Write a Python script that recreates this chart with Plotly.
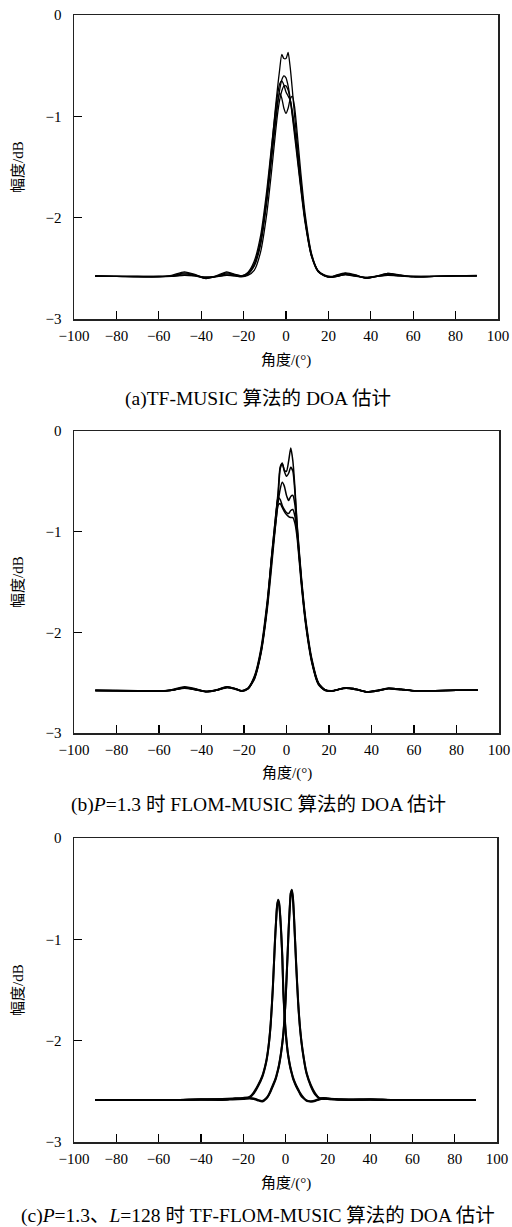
import plotly.graph_objects as go

# ---------------- data ----------------
X_AB = [-90, -80, -70, -60, -54, -48, -43, -38, -33, -28, -24, -21, -18, -15, -12, -9, -7, -5, -4, -3,
        -2, -1, 0, 1, 2, 3, 4, 5, 7, 9, 12, 15, 18, 21, 24, 28, 33, 38, 43, 48, 54, 60, 70, 80, 90]

# (a) TF-MUSIC
A1 = [-2.575, -2.58, -2.585, -2.585, -2.57, -2.535, -2.56, -2.60, -2.575, -2.535, -2.56, -2.574, -2.549,
      -2.461, -2.23, -1.77, -1.36, -0.92, -0.72, -0.54, -0.39, -0.43, -0.43, -0.37, -0.52, -0.74, -0.98,
      -1.20, -1.64, -2.02, -2.38, -2.52, -2.57, -2.59, -2.565, -2.545, -2.565, -2.60, -2.575, -2.55,
      -2.565, -2.585, -2.58, -2.575, -2.575]
A2 = [-2.58, -2.58, -2.58, -2.58, -2.575, -2.555, -2.57, -2.59, -2.58, -2.555, -2.57, -2.58, -2.56,
      -2.48, -2.27, -1.84, -1.46, -1.07, -0.89, -0.74, -0.64, -0.60, -0.62, -0.70, -0.83, -1.00, -1.18,
      -1.36, -1.72, -2.05, -2.38, -2.53, -2.575, -2.59, -2.58, -2.56, -2.575, -2.595, -2.58, -2.565,
      -2.575, -2.58, -2.58, -2.575, -2.575]
A3 = [-2.575, -2.58, -2.58, -2.585, -2.58, -2.565, -2.575, -2.595, -2.585, -2.565, -2.575, -2.58, -2.555,
      -2.46, -2.24, -1.80, -1.42, -1.03, -0.86, -0.77, -0.82, -0.92, -0.97, -0.92, -0.83, -0.80, -0.90,
      -1.10, -1.56, -1.96, -2.35, -2.52, -2.57, -2.585, -2.575, -2.56, -2.575, -2.59, -2.575, -2.56,
      -2.575, -2.585, -2.58, -2.575, -2.57]
A4 = [-2.575, -2.58, -2.58, -2.58, -2.575, -2.545, -2.565, -2.60, -2.58, -2.545, -2.565, -2.575, -2.54,
      -2.43, -2.18, -1.72, -1.33, -0.95, -0.79, -0.68, -0.65, -0.69, -0.76, -0.80, -0.84, -0.95, -1.10,
      -1.28, -1.66, -2.00, -2.36, -2.52, -2.565, -2.58, -2.57, -2.55, -2.57, -2.595, -2.58, -2.55,
      -2.57, -2.58, -2.58, -2.575, -2.575]
A5 = [-2.58, -2.58, -2.585, -2.58, -2.58, -2.57, -2.575, -2.585, -2.58, -2.57, -2.575, -2.585, -2.57,
      -2.52, -2.34, -1.95, -1.58, -1.17, -0.98, -0.84, -0.75, -0.70, -0.70, -0.74, -0.84, -0.98, -1.14,
      -1.32, -1.70, -2.03, -2.37, -2.53, -2.57, -2.59, -2.58, -2.565, -2.58, -2.59, -2.58, -2.57,
      -2.575, -2.58, -2.58, -2.575, -2.575]

# (b) FLOM-MUSIC, P=1.3
B1 = [-2.575, -2.58, -2.585, -2.585, -2.575, -2.545, -2.565, -2.59, -2.575, -2.54, -2.56, -2.585, -2.56,
      -2.45, -2.20, -1.72, -1.25, -0.82, -0.62, -0.36, -0.32, -0.39, -0.40, -0.30, -0.17, -0.30, -0.58,
      -0.93, -1.45, -1.86, -2.27, -2.50, -2.57, -2.585, -2.57, -2.55, -2.565, -2.595, -2.58, -2.555,
      -2.565, -2.58, -2.58, -2.575, -2.575]
B2 = [-2.575, -2.58, -2.58, -2.585, -2.575, -2.55, -2.57, -2.59, -2.575, -2.545, -2.565, -2.585, -2.555,
      -2.44, -2.18, -1.70, -1.24, -0.83, -0.66, -0.38, -0.32, -0.40, -0.45, -0.42, -0.36, -0.40, -0.62,
      -0.95, -1.47, -1.88, -2.29, -2.51, -2.57, -2.585, -2.57, -2.555, -2.57, -2.59, -2.575, -2.56,
      -2.57, -2.58, -2.58, -2.575, -2.575]
B3 = [-2.575, -2.575, -2.58, -2.585, -2.57, -2.54, -2.56, -2.59, -2.57, -2.54, -2.56, -2.58, -2.55,
      -2.43, -2.16, -1.68, -1.26, -0.90, -0.72, -0.58, -0.51, -0.55, -0.64, -0.69, -0.65, -0.64, -0.74,
      -0.99, -1.49, -1.90, -2.30, -2.51, -2.575, -2.585, -2.57, -2.55, -2.565, -2.59, -2.575, -2.555,
      -2.565, -2.58, -2.58, -2.575, -2.57]
B4 = [-2.58, -2.58, -2.585, -2.585, -2.575, -2.55, -2.565, -2.585, -2.575, -2.545, -2.56, -2.58, -2.555,
      -2.45, -2.19, -1.73, -1.30, -0.86, -0.66, -0.68, -0.74, -0.78, -0.81, -0.82, -0.79, -0.78, -0.85,
      -1.02, -1.50, -1.90, -2.29, -2.51, -2.57, -2.58, -2.57, -2.55, -2.565, -2.595, -2.58, -2.555,
      -2.565, -2.58, -2.58, -2.575, -2.575]
B5 = [-2.58, -2.58, -2.58, -2.58, -2.575, -2.555, -2.57, -2.585, -2.575, -2.55, -2.565, -2.585, -2.56,
      -2.46, -2.21, -1.76, -1.34, -0.90, -0.74, -0.72, -0.76, -0.80, -0.83, -0.85, -0.86, -0.86, -0.92,
      -1.06, -1.53, -1.92, -2.31, -2.52, -2.575, -2.585, -2.57, -2.555, -2.57, -2.59, -2.58, -2.56,
      -2.57, -2.58, -2.58, -2.575, -2.575]

# (c) TF-FLOM-MUSIC, P=1.3, L=128
X_C = [-90, -80, -70, -60, -50, -40, -30, -25, -20, -17, -15, -13, -11, -9, -8, -7, -6, -5, -4.5, -4,
       -3.5, -3, -2.5, -2, -1.5, -1, -0.5, 0, 1, 1.5, 2, 2.5, 3, 3.5, 4, 5, 6, 7, 8, 10, 12, 14, 16, 18,
       20, 25, 30, 40, 50, 60, 70, 80, 90]
C1 = [-2.585, -2.585, -2.585, -2.585, -2.585, -2.58, -2.58, -2.575, -2.57, -2.56, -2.52, -2.45, -2.36,
      -2.20, -2.06, -1.84, -1.49, -1.03, -0.84, -0.68, -0.61, -0.64, -0.76, -0.94, -1.17, -1.52, -1.72,
      -1.88, -2.10, -2.17, -2.23, -2.28, -2.32, -2.36, -2.39, -2.44, -2.48, -2.52, -2.55, -2.595, -2.60,
      -2.595, -2.58, -2.57, -2.575, -2.58, -2.585, -2.58, -2.585, -2.585, -2.585, -2.585, -2.585]
C2 = [-2.585, -2.585, -2.585, -2.585, -2.585, -2.58, -2.575, -2.57, -2.565, -2.555, -2.51, -2.44, -2.35,
      -2.19, -2.05, -1.83, -1.48, -1.02, -0.83, -0.67, -0.62, -0.66, -0.78, -0.96, -1.19, -1.54, -1.74,
      -1.90, -2.11, -2.18, -2.24, -2.29, -2.33, -2.37, -2.40, -2.45, -2.49, -2.53, -2.56, -2.59, -2.60,
      -2.59, -2.575, -2.565, -2.57, -2.58, -2.58, -2.58, -2.585, -2.585, -2.585, -2.585, -2.585]
C3 = [-2.585, -2.585, -2.585, -2.585, -2.585, -2.58, -2.585, -2.58, -2.575, -2.57, -2.575, -2.59, -2.60,
      -2.57, -2.54, -2.50, -2.45, -2.40, -2.37, -2.33, -2.29, -2.24, -2.18, -2.11, -2.03, -1.93, -1.80,
      -1.62, -1.15, -0.90, -0.70, -0.55, -0.51, -0.58, -0.76, -1.22, -1.62, -1.90, -2.08, -2.32, -2.44,
      -2.52, -2.57, -2.575, -2.57, -2.58, -2.585, -2.58, -2.585, -2.585, -2.585, -2.585, -2.585]
C4 = [-2.585, -2.585, -2.585, -2.585, -2.585, -2.58, -2.58, -2.575, -2.57, -2.565, -2.57, -2.585, -2.595,
      -2.565, -2.535, -2.49, -2.44, -2.39, -2.36, -2.32, -2.28, -2.23, -2.17, -2.10, -2.02, -1.92, -1.79,
      -1.61, -1.14, -0.89, -0.69, -0.54, -0.52, -0.60, -0.78, -1.24, -1.64, -1.91, -2.09, -2.33, -2.45,
      -2.53, -2.565, -2.57, -2.575, -2.58, -2.58, -2.58, -2.585, -2.585, -2.585, -2.585, -2.585]

X_TICKS = [-100, -80, -60, -40, -20, 0, 20, 40, 60, 80, 100]
X_TICK_LABELS = ["−100", "−80", "−60", "−40", "−20", "0", "20", "40", "60", "80", "100"]
Y_TICKS = [0, -1, -2, -3]
Y_TICK_LABELS = ["0", "−1", "−2", "−3"]

X_TITLE = "角度/(°)"
Y_TITLE = "幅度/dB"
CAPTIONS = ["(a)TF-MUSIC 算法的 DOA 估计",
            "(b)<i>P</i>=1.3 时 FLOM-MUSIC 算法的 DOA 估计",
            "(c)<i>P</i>=1.3、<i>L</i>=128 时 TF-FLOM-MUSIC 算法的 DOA 估计"]

# ---------------- layout helpers ----------------
W, H = 512, 1227
FONT = "Liberation Serif, Times New Roman, Noto Sans CJK SC, serif"

def px_x(p):
    return p / W

def px_y(p):
    return 1 - p / H

# panel boxes in pixels: (left, right, top, bottom)
BOXES = [(74, 498, 15, 319), (74, 499, 431, 733), (74, 497, 838, 1142)]
XTITLE_Y = [361, 773, 1183]
CAPTION_Y = [399, 805, 1216]
LINE_W = [1.3, 1.5, 2.0]

panels = [(X_AB, [A1, A2, A3, A4, A5]),
          (X_AB, [B1, B2, B3, B4, B5]),
          (X_C, [C1, C2, C3, C4])]

fig = go.Figure()
layout = dict(width=W, height=H, margin=dict(l=0, r=0, t=0, b=0, autoexpand=False),
              paper_bgcolor="white", plot_bgcolor="white", showlegend=False,
              font=dict(family=FONT, color="black"))
annotations = []

for i, (xs, curves) in enumerate(panels):
    n = "" if i == 0 else str(i + 1)
    for ys in curves:
        fig.add_trace(go.Scatter(x=xs, y=ys, mode="lines", xaxis="x" + n, yaxis="y" + n,
                                 line=dict(color="black", width=LINE_W[i], shape="spline",
                                           smoothing=0.6),
                                 hoverinfo="skip"))
    l, r, t, b = BOXES[i]
    layout["xaxis" + n] = dict(domain=[px_x(l), px_x(r)], anchor="y" + n, range=[-100, 100],
                               tickvals=X_TICKS, ticktext=X_TICK_LABELS, ticks="inside",
                               ticklen=8, tickwidth=1.2, tickcolor="black", showline=True,
                               mirror=True, linecolor="#222", linewidth=1.5, showgrid=False,
                               zeroline=False, ticklabelstandoff=2, automargin=False,
                               tickfont=dict(family=FONT, size=15, color="black"))
    layout["yaxis" + n] = dict(domain=[px_y(b), px_y(t)], anchor="x" + n, range=[-3, 0],
                               tickvals=Y_TICKS, ticktext=Y_TICK_LABELS, ticks="inside",
                               ticklen=8, tickwidth=1.2, tickcolor="black", showline=True,
                               mirror=True, linecolor="#222", linewidth=1.5, showgrid=False,
                               zeroline=False, ticklabelstandoff=8, automargin=False,
                               tickfont=dict(family=FONT, size=15, color="black"))
    annotations.append(dict(text=X_TITLE, xref="paper", yref="paper", x=px_x((l + r) / 2),
                            y=px_y(XTITLE_Y[i]), xanchor="center", yanchor="middle",
                            showarrow=False, font=dict(family=FONT, size=15, color="black")))
    annotations.append(dict(text=Y_TITLE, xref="paper", yref="paper", x=px_x(18),
                            y=px_y((t + b) / 2), xanchor="center", yanchor="middle",
                            textangle=-90, showarrow=False,
                            font=dict(family=FONT, size=15, color="black")))
    annotations.append(dict(text=CAPTIONS[i], xref="paper", yref="paper", x=px_x(258),
                            y=px_y(CAPTION_Y[i]), xanchor="center", yanchor="middle",
                            showarrow=False, font=dict(family=FONT, size=19.5, color="black")))

layout["annotations"] = annotations
fig.update_layout(**layout)
fig.write_html("out.html", config={"displayModeBar": False, "staticPlot": True},
               post_script="document.body.style.margin='0';document.body.style.padding='0';"
                           "document.body.style.overflow='hidden';")
